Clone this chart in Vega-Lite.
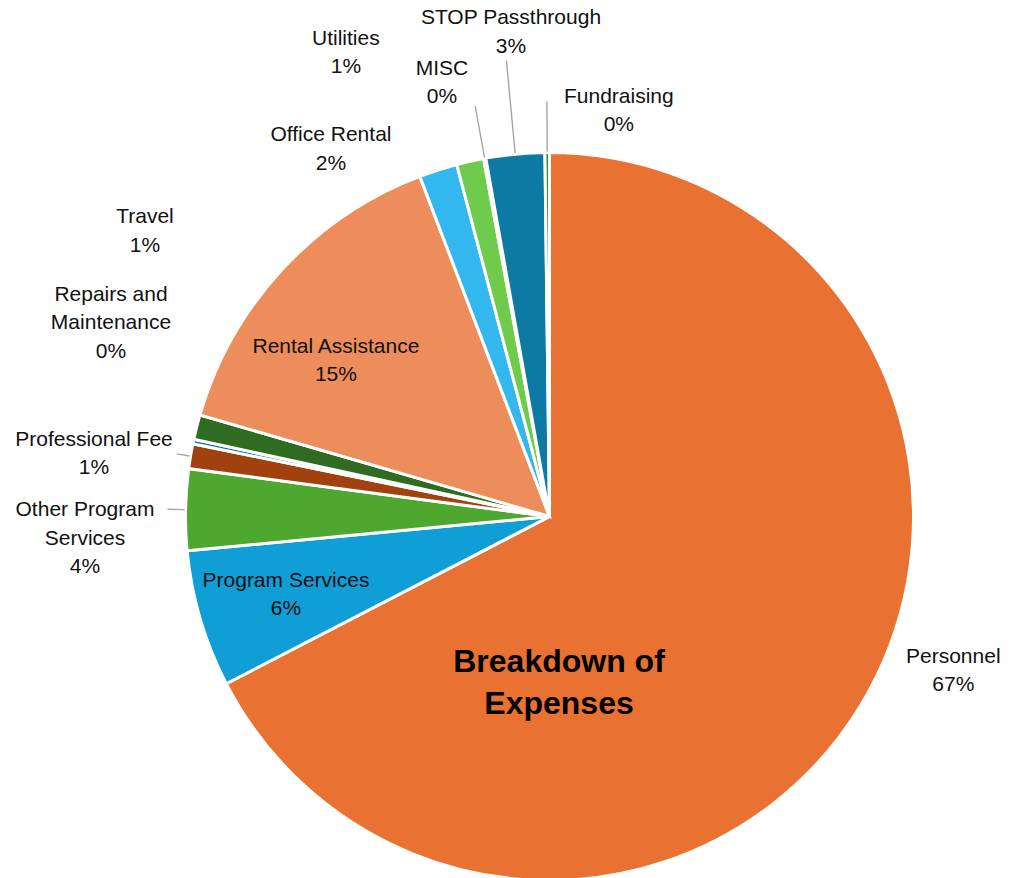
{
  "$schema": "https://vega.github.io/schema/vega-lite/v6.json",
  "width": 947,
  "height": 723,
  "autosize": {"type": "none"},
  "padding": {"left": 76, "top": 155, "right": 0, "bottom": 0},
  "background": "white",
  "config": {
    "view": {"stroke": null},
    "text": {"font": "Liberation Sans", "fontSize": 21, "lineHeight": 28.5, "lineBreak": "\n", "align": "center", "baseline": "middle", "color": "#111111"}
  },
  "data": {
    "values": [
      {"i": 1, "name": "Personnel", "label": "Personnel", "share": 0.674},
      {"i": 2, "name": "Program Services", "label": "Program Services", "share": 0.061},
      {"i": 3, "name": "Other Program Services", "label": "Other Program\nServices", "share": 0.036},
      {"i": 4, "name": "Professional Fee", "label": "Professional Fee", "share": 0.011},
      {"i": 5, "name": "Repairs and Maintenance", "label": "Repairs and\nMaintenance", "share": 0.002},
      {"i": 6, "name": "Travel", "label": "Travel", "share": 0.011},
      {"i": 7, "name": "Rental Assistance", "label": "Rental Assistance", "share": 0.147},
      {"i": 8, "name": "Office Rental", "label": "Office Rental", "share": 0.017},
      {"i": 9, "name": "Utilities", "label": "Utilities", "share": 0.012},
      {"i": 10, "name": "MISC", "label": "MISC", "share": 0.001},
      {"i": 11, "name": "STOP Passthrough", "label": "STOP Passthrough", "share": 0.026},
      {"i": 12, "name": "Fundraising", "label": "Fundraising", "share": 0.002}
    ]
  },
  "layer": [
    {
      "transform": [{"calculate": "datum.label + '\\n' + format(datum.share, '.0%')", "as": "txt"}],
      "encoding": {
        "theta": {"field": "share", "type": "quantitative", "stack": true},
        "order": {"field": "i", "type": "quantitative"},
        "detail": {"field": "name", "type": "nominal"}
      },
      "layer": [
        {
          "mark": {"type": "arc", "outerRadius": 364, "stroke": "white", "strokeWidth": 3},
          "encoding": {
            "color": {
              "field": "name", "type": "nominal", "legend": null,
              "scale": {
                "domain": ["Personnel", "Program Services", "Other Program Services", "Professional Fee", "Repairs and Maintenance", "Travel", "Rental Assistance", "Office Rental", "Utilities", "MISC", "STOP Passthrough", "Fundraising"],
                "range": ["#E97132", "#0F9ED5", "#4EA72E", "#A0410E", "#0E6F9A", "#2F6B20", "#ED8D5B", "#32B8EE", "#6FCB4B", "#F2AA84", "#0C7AA3", "#3A8A23"]
              }
            }
          }
        },
        {"mark": {"type": "text", "radius": 420, "dx": 45, "dy": -78.25},
         "encoding": {"text": {"condition": {"test": "datum.name === 'Personnel'", "field": "txt"}, "value": ""}}},
        {"mark": {"type": "text", "radius": 270, "dx": -4.5, "dy": -11.85},
         "encoding": {"text": {"condition": {"test": "datum.name === 'Program Services'", "field": "txt"}, "value": ""}}},
        {"mark": {"type": "text", "radius": 420, "dx": -44.6, "dy": 1.9},
         "encoding": {"text": {"condition": {"test": "datum.name === 'Other Program Services'", "field": "txt"}, "value": ""}}},
        {"mark": {"type": "text", "radius": 420, "dx": -41.3, "dy": -7.25},
         "encoding": {"text": {"condition": {"test": "datum.name === 'Professional Fee'", "field": "txt"}, "value": ""}}},
        {"mark": {"type": "text", "radius": 420, "dx": -27.5, "dy": -135.5},
         "encoding": {"text": {"condition": {"test": "datum.name === 'Repairs and Maintenance'", "field": "txt"}, "value": ""}}},
        {"mark": {"type": "text", "radius": 420, "dx": 2.6, "dy": -196.25},
         "encoding": {"text": {"condition": {"test": "datum.name === 'Travel'", "field": "txt"}, "value": ""}}},
        {"mark": {"type": "text", "radius": 270, "dx": -15, "dy": 13.25},
         "encoding": {"text": {"condition": {"test": "datum.name === 'Rental Assistance'", "field": "txt"}, "value": ""}}},
        {"mark": {"type": "text", "radius": 420, "dx": -90, "dy": 18.75},
         "encoding": {"text": {"condition": {"test": "datum.name === 'Office Rental'", "field": "txt"}, "value": ""}}},
        {"mark": {"type": "text", "radius": 420, "dx": -112, "dy": -67.85},
         "encoding": {"text": {"condition": {"test": "datum.name === 'Utilities'", "field": "txt"}, "value": ""}}},
        {"mark": {"type": "text", "radius": 420, "dx": -32.7, "dy": -34.25},
         "encoding": {"text": {"condition": {"test": "datum.name === 'MISC'", "field": "txt"}, "value": ""}}},
        {"mark": {"type": "text", "radius": 420, "dx": 1, "dy": -80.25},
         "encoding": {"text": {"condition": {"test": "datum.name === 'STOP Passthrough'", "field": "txt"}, "value": ""}}},
        {"mark": {"type": "text", "radius": 420, "dx": 72, "dy": 0.25},
         "encoding": {"text": {"condition": {"test": "datum.name === 'Fundraising'", "field": "txt"}, "value": ""}}}
      ]
    },
    {
      "transform": [
        {"window": [{"op": "sum", "field": "share", "as": "cum"}], "sort": [{"field": "i", "order": "ascending"}]},
        {"calculate": "datum.cum - datum.share / 2", "as": "mid"}
      ],
      "encoding": {
        "theta": {"field": "mid", "type": "quantitative", "stack": null, "scale": {"domain": [0, 1]}},
        "theta2": {"field": "mid"}
      },
      "layer": [
        {"transform": [{"filter": "datum.name === 'Fundraising'"}],
         "mark": {"type": "arc", "innerRadius": 365, "outerRadius": 415, "stroke": "#A6A6A6", "strokeWidth": 1.4, "fillOpacity": 0}},
        {"transform": [{"filter": "datum.name === 'STOP Passthrough'"}],
         "mark": {"type": "arc", "innerRadius": 365, "outerRadius": 458, "stroke": "#A6A6A6", "strokeWidth": 1.4, "fillOpacity": 0}},
        {"transform": [{"filter": "datum.name === 'MISC'"}],
         "mark": {"type": "arc", "innerRadius": 365, "outerRadius": 417, "stroke": "#A6A6A6", "strokeWidth": 1.4, "fillOpacity": 0}},
        {"transform": [{"filter": "datum.name === 'Professional Fee'"}],
         "mark": {"type": "arc", "innerRadius": 365, "outerRadius": 378, "stroke": "#A6A6A6", "strokeWidth": 1.4, "fillOpacity": 0}},
        {"transform": [{"filter": "datum.name === 'Other Program Services'"}],
         "mark": {"type": "arc", "innerRadius": 365, "outerRadius": 382, "stroke": "#A6A6A6", "strokeWidth": 1.4, "fillOpacity": 0}}
      ]
    },
    {
      "data": {"values": [{"title": "Breakdown of\nExpenses"}]},
      "mark": {"type": "text", "dx": 9.5, "dy": 145, "fontSize": 32, "fontWeight": "bold", "lineHeight": 42, "color": "#000000"},
      "encoding": {"text": {"field": "title", "type": "nominal"}}
    }
  ]
}
